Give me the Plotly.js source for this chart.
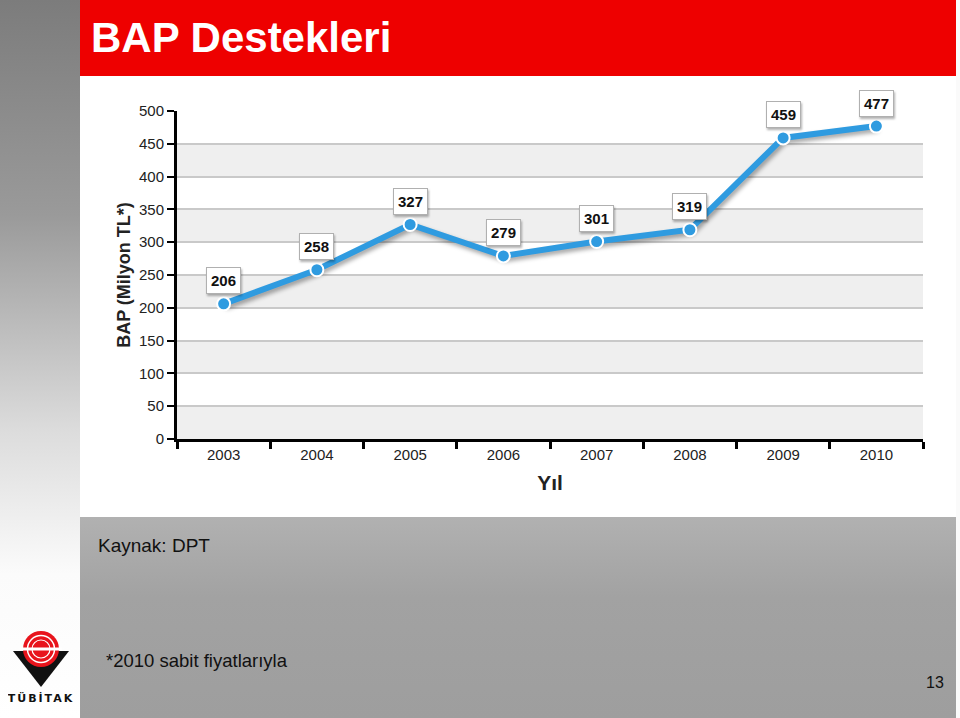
<!DOCTYPE html>
<html>
<head>
<meta charset="utf-8">
<script src="https://cdn.plot.ly/plotly-3.0.1.min.js"></script>
<style>
  html, body { margin: 0; padding: 0; }
  body { width: 960px; height: 718px; position: relative; overflow: hidden; background: #fafafa; font-family: Arial, "Liberation Sans", sans-serif; }
  #strip { position: absolute; left: 0; top: 0; width: 80px; height: 718px;
           background: linear-gradient(to bottom, #7c7c7c 0%, #9a9a9a 30%, #dcdcdc 60%, #fbfbfb 80%, #ffffff 100%); }
  #titlebar { position: absolute; left: 80px; top: 0; width: 876px; height: 76px; background: #ee0000; }
  #titlebar span { position: absolute; left: 11px; top: 14px; color: #fff; font: bold 42px Arial, "Liberation Sans", sans-serif; }
  #content { position: absolute; left: 80px; top: 76px; width: 876px; height: 441px; background: #fff; }
  #footer { position: absolute; left: 80px; top: 517px; width: 876px; height: 201px;
            background: linear-gradient(to bottom, #b1b1b1 0%, #a2a2a2 40%, #9e9e9e 100%); }
  .note { position: absolute; color: #111; font-family: Arial, "Liberation Sans", sans-serif; }
  #plot { position: absolute; left: 0; top: 0; width: 960px; height: 718px; }
  .scatterlayer .js-line { filter: drop-shadow(2px 3px 2px rgba(0,0,0,0.35)); }
  .annotation-text-g rect.bg { filter: drop-shadow(1px 2px 1px rgba(0,0,0,0.3)); }
  #logo { position: absolute; left: 8px; top: 625px; width: 66px; height: 90px; }
</style>
</head>
<body>
<div id="strip"></div>
<div id="titlebar"><span>BAP Destekleri</span></div>
<div id="content"></div>
<div id="footer"></div>
<div class="note" style="left:98px; top:535px; font-size:19px;">Kaynak: DPT</div>
<div class="note" style="left:106px; top:650px; font-size:18.5px;">*2010 sabit fiyatlarıyla</div>
<div class="note" style="left:926px; top:674px; font-size:16px;">13</div>
<svg id="logo" viewBox="0 0 66 90">
  <polygon points="5,26 61,26 33,62" fill="#111"/>
  <circle cx="33" cy="24" r="18" fill="#e8141c"/>
  <circle cx="33" cy="24" r="13.5" fill="none" stroke="#fff" stroke-width="1.5"/>
  <circle cx="33" cy="24" r="9" fill="none" stroke="#fff" stroke-width="1.2"/>
  <rect x="12" y="22.5" width="42" height="3" fill="#fff"/>
  <text x="33" y="77" text-anchor="middle" font-family="DejaVu Sans, Arial" font-weight="bold" font-size="11" letter-spacing="2" fill="#111">TÜBİTAK</text>
</svg>
<div id="plot"></div>
<script>
// Data
const years = ['2003', '2004', '2005', '2006', '2007', '2008', '2009', '2010'];
const bapValues = [206, 258, 327, 279, 301, 319, 459, 477];
const yTicks = [0, 50, 100, 150, 200, 250, 300, 350, 400, 450, 500];
const bandStarts = [0, 100, 200, 300, 400]; // shaded bands, each 50 high

const lineColor = '#2f9be0';

const trace = {
    x: years,
    y: bapValues,
    type: 'scatter',
    mode: 'lines+markers',
    line: {color: lineColor, width: 6},
    marker: {color: lineColor, size: 13, line: {color: '#fff', width: 2}},
    hoverinfo: 'x+y'
};

// Alternating grey bands
const shapes = bandStarts.map(b => ({
    type: 'rect', xref: 'paper', yref: 'y',
    x0: 0, x1: 1, y0: b, y1: b + 50,
    fillcolor: '#efefef', line: {width: 0}, layer: 'below'
}));

// Value labels above each point
const annotations = years.map((yr, i) => ({
    x: i, y: bapValues[i], xref: 'x', yref: 'y',
    text: '<b>' + bapValues[i] + '</b>',
    showarrow: false, yshift: 23,
    bgcolor: '#ffffff', bordercolor: '#b0b0b0', borderwidth: 1, borderpad: 4,
    font: {family: 'Arial', size: 15, color: '#111'}
}));

const layout = {
    width: 960, height: 718,
    margin: {l: 177, r: 37, t: 111, b: 279, pad: 0},
    paper_bgcolor: 'rgba(0,0,0,0)',
    plot_bgcolor: 'rgba(0,0,0,0)',
    showlegend: false,
    font: {family: 'Arial', color: '#222'},
    xaxis: {
        type: 'category',
        range: [-0.5, 7.5],
        showgrid: false, zeroline: false,
        showline: true, linecolor: '#000', linewidth: 3,
        ticks: 'outside', tickson: 'boundaries', ticklen: 7, tickwidth: 3, tickcolor: '#000',
        tickfont: {size: 15, color: '#222'},
        title: {text: '<b>Yıl</b>', font: {size: 21, color: '#222'}, standoff: 14}
    },
    yaxis: {
        range: [0, 500],
        tickvals: yTicks,
        showgrid: true, gridcolor: '#c9c9c9', gridwidth: 1.5,
        zeroline: false,
        showline: true, linecolor: '#000', linewidth: 3,
        ticks: 'outside', ticklen: 7, tickwidth: 2, tickcolor: '#000',
        tickfont: {size: 15, color: '#222'},
        title: {text: '<b>BAP (Milyon TL*)</b>', font: {size: 18, color: '#222'}, standoff: 4}
    },
    shapes: shapes,
    annotations: annotations
};

Plotly.newPlot('plot', [trace], layout, {displayModeBar: false});
</script>
</body>
</html>
